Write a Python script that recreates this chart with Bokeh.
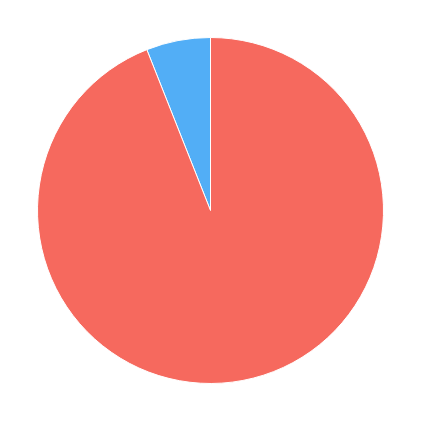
import math
from bokeh.plotting import figure
from bokeh.models import ColumnDataSource, Range1d
from bokeh.embed import file_html
from bokeh.resources import INLINE

categories = ["A", "B"]
values = [6, 94]
colors = ["#52AEF6", "#F6695E"]

total = sum(values)
starts, ends = [], []
acc = math.pi / 2
for v in values:
    a = v / total * 2 * math.pi
    starts.append(acc)
    ends.append(acc + a)
    acc += a

src = ColumnDataSource(dict(cat=categories, val=values, color=colors, start=starts, end=ends))

W = 405
p = figure(width=W, height=W, output_backend="svg", toolbar_location=None,
           x_range=Range1d(0, W), y_range=Range1d(0, W), min_border=0)
p.axis.visible = False
p.grid.visible = False
p.outline_line_color = None
p.background_fill_color = "white"

p.wedge(x=210, y=W - 210, radius=173, start_angle="start", end_angle="end",
        fill_color="color", line_color="white", line_width=1, source=src)

open("out.html", "w").write(file_html(p, INLINE))
